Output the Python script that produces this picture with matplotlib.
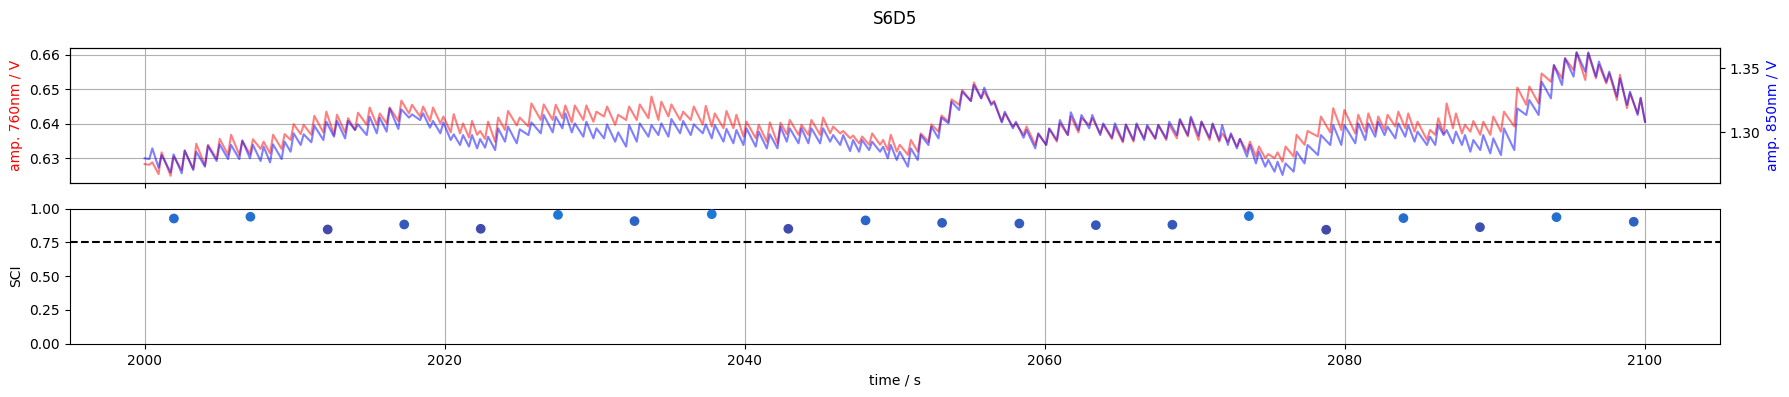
import numpy as np
import matplotlib
matplotlib.use("Agg")
import matplotlib.pyplot as plt
from matplotlib.colors import LinearSegmentedColormap, Normalize

# ---------------- data ----------------
title = "S6D5"

# series end points
t_edges = [2000.0, 2100.0]
red_edges = [0.6283, 0.6406]
blue_edges = [1.2793, 1.3081]

# beat peak times (s)
t_peak = [2000.51, 2001.13, 2001.93, 2002.67, 2003.44, 2004.22, 2005.00, 2005.76, 2006.51, 2007.22,
          2007.93, 2008.56, 2009.33, 2009.93, 2010.60, 2011.31, 2012.11, 2012.82, 2013.56, 2014.22,
          2015.00, 2015.67, 2016.33, 2017.11, 2017.82, 2018.56, 2019.22, 2019.91, 2020.60, 2021.22,
          2021.82, 2022.36, 2022.89, 2023.56, 2024.22, 2025.00, 2025.78, 2026.60, 2027.40, 2028.04,
          2028.67, 2029.44, 2030.11, 2030.82, 2031.56, 2032.29, 2033.00, 2033.78, 2034.44, 2035.11,
          2035.89, 2036.60, 2037.40, 2038.00, 2038.78, 2039.44, 2040.11, 2040.93, 2041.67, 2042.38,
          2043.00, 2043.78, 2044.44, 2045.22, 2045.89, 2046.56, 2047.22, 2047.82, 2048.49, 2049.22,
          2049.73, 2050.33, 2051.07, 2051.73, 2052.44, 2053.11, 2053.78, 2054.49, 2055.27, 2055.96,
          2056.62, 2057.33, 2058.07, 2058.78, 2059.56, 2060.29, 2061.00, 2061.73, 2062.44, 2063.16,
          2063.89, 2064.67, 2065.40, 2066.11, 2066.82, 2067.56, 2068.29, 2069.00, 2069.73, 2070.44,
          2071.18, 2071.82, 2072.40, 2073.00, 2073.67, 2074.27, 2074.89, 2075.51, 2076.04, 2076.78,
          2077.51, 2078.40, 2079.22, 2079.96, 2080.89, 2081.56, 2082.22, 2082.84, 2083.56, 2084.22,
          2084.84, 2085.67, 2086.22, 2086.78, 2087.40, 2088.00, 2088.56, 2089.22, 2089.89, 2090.60,
          2091.49, 2092.29, 2093.11, 2093.93, 2094.67, 2095.44, 2096.22, 2096.93, 2097.62, 2098.33,
          2099.00, 2099.71]

# beat foot (trough) times (s)
t_foot = [2000.31, 2000.93, 2001.73, 2002.47, 2003.24, 2004.02, 2004.80, 2005.56, 2006.31, 2007.02,
          2007.73, 2008.36, 2009.13, 2009.73, 2010.40, 2011.11, 2011.91, 2012.62, 2013.36, 2014.02,
          2014.80, 2015.47, 2016.13, 2016.91, 2017.62, 2018.36, 2019.02, 2019.71, 2020.40, 2021.02,
          2021.62, 2022.16, 2022.69, 2023.36, 2024.02, 2024.80, 2025.58, 2026.40, 2027.20, 2027.84,
          2028.47, 2029.24, 2029.91, 2030.62, 2031.36, 2032.09, 2032.80, 2033.58, 2034.24, 2034.91,
          2035.69, 2036.40, 2037.20, 2037.80, 2038.58, 2039.24, 2039.91, 2040.73, 2041.47, 2042.18,
          2042.80, 2043.58, 2044.24, 2045.02, 2045.69, 2046.36, 2047.02, 2047.62, 2048.29, 2049.02,
          2049.53, 2050.13, 2050.87, 2051.53, 2052.24, 2052.91, 2053.58, 2054.29, 2055.07, 2055.76,
          2056.42, 2057.13, 2057.87, 2058.58, 2059.36, 2060.09, 2060.80, 2061.53, 2062.24, 2062.96,
          2063.69, 2064.47, 2065.20, 2065.91, 2066.62, 2067.36, 2068.09, 2068.80, 2069.53, 2070.24,
          2070.98, 2071.62, 2072.20, 2072.80, 2073.47, 2074.07, 2074.69, 2075.31, 2075.84, 2076.58,
          2077.31, 2078.20, 2079.02, 2079.76, 2080.69, 2081.36, 2082.02, 2082.64, 2083.36, 2084.02,
          2084.64, 2085.47, 2086.02, 2086.58, 2087.20, 2087.80, 2088.36, 2089.02, 2089.69, 2090.40,
          2091.29, 2092.09, 2092.91, 2093.73, 2094.47, 2095.24, 2096.02, 2096.73, 2097.42, 2098.13,
          2098.80, 2099.51]

# amplitude 760 nm (V)
red_foot = [0.6281, 0.6254, 0.6249, 0.6266, 0.6269, 0.6279, 0.6298, 0.6310, 0.6310, 0.6312,
            0.6327, 0.6314, 0.6327, 0.6353, 0.6370, 0.6368, 0.6375, 0.6368, 0.6375, 0.6382,
            0.6397, 0.6397, 0.6401, 0.6408, 0.6430, 0.6421, 0.6408, 0.6401, 0.6375, 0.6372,
            0.6360, 0.6368, 0.6356, 0.6348, 0.6382, 0.6395, 0.6392, 0.6411, 0.6411, 0.6416,
            0.6404, 0.6411, 0.6406, 0.6421, 0.6397, 0.6411, 0.6411, 0.6416, 0.6411, 0.6421,
            0.6411, 0.6411, 0.6397, 0.6392, 0.6387, 0.6387, 0.6363, 0.6358, 0.6348, 0.6343,
            0.6370, 0.6368, 0.6368, 0.6368, 0.6372, 0.6372, 0.6358, 0.6343, 0.6339, 0.6339,
            0.6324, 0.6319, 0.6310, 0.6319, 0.6348, 0.6377, 0.6406, 0.6455, 0.6466, 0.6474,
            0.6459, 0.6406, 0.6392, 0.6368, 0.6339, 0.6339, 0.6348, 0.6368, 0.6375, 0.6397,
            0.6372, 0.6356, 0.6346, 0.6348, 0.6358, 0.6356, 0.6353, 0.6358, 0.6363, 0.6353,
            0.6353, 0.6348, 0.6348, 0.6334, 0.6319, 0.6305, 0.6300, 0.6300, 0.6290, 0.6305,
            0.6339, 0.6363, 0.6375, 0.6382, 0.6372, 0.6377, 0.6377, 0.6382, 0.6392, 0.6387,
            0.6377, 0.6353, 0.6368, 0.6372, 0.6387, 0.6372, 0.6377, 0.6368, 0.6368, 0.6377,
            0.6392, 0.6455, 0.6459, 0.6522, 0.6532, 0.6556, 0.6527, 0.6532, 0.6517, 0.6469,
            0.6445, 0.6430]
red_peak = [0.6288, 0.6317, 0.6305, 0.6321, 0.6342, 0.6339, 0.6356, 0.6368, 0.6350, 0.6355,
            0.6348, 0.6368, 0.6370, 0.6399, 0.6397, 0.6423, 0.6435, 0.6426, 0.6416, 0.6432,
            0.6447, 0.6430, 0.6447, 0.6467, 0.6455, 0.6450, 0.6447, 0.6421, 0.6428, 0.6401,
            0.6408, 0.6379, 0.6406, 0.6418, 0.6437, 0.6418, 0.6459, 0.6456, 0.6455, 0.6453,
            0.6453, 0.6453, 0.6435, 0.6450, 0.6426, 0.6450, 0.6456, 0.6479, 0.6464, 0.6456,
            0.6435, 0.6450, 0.6452, 0.6430, 0.6437, 0.6426, 0.6406, 0.6397, 0.6404, 0.6403,
            0.6411, 0.6397, 0.6411, 0.6418, 0.6392, 0.6379, 0.6366, 0.6363, 0.6372, 0.6353,
            0.6368, 0.6339, 0.6353, 0.6372, 0.6398, 0.6424, 0.6471, 0.6498, 0.6520, 0.6493,
            0.6466, 0.6430, 0.6401, 0.6392, 0.6370, 0.6385, 0.6401, 0.6421, 0.6416, 0.6416,
            0.6397, 0.6392, 0.6397, 0.6397, 0.6392, 0.6397, 0.6397, 0.6411, 0.6416, 0.6406,
            0.6398, 0.6372, 0.6368, 0.6356, 0.6348, 0.6334, 0.6312, 0.6317, 0.6334, 0.6368,
            0.6379, 0.6421, 0.6445, 0.6440, 0.6426, 0.6430, 0.6421, 0.6426, 0.6435, 0.6430,
            0.6406, 0.6382, 0.6416, 0.6459, 0.6430, 0.6397, 0.6408, 0.6406, 0.6421, 0.6435,
            0.6505, 0.6508, 0.6546, 0.6569, 0.6590, 0.6607, 0.6604, 0.6571, 0.6546, 0.6542,
            0.6488, 0.6474]

# amplitude 850 nm (V)
blue_foot = [1.2787, 1.2719, 1.2682, 1.2675, 1.2701, 1.2727, 1.2772, 1.2787, 1.2787, 1.2793,
             1.2772, 1.2761, 1.2787, 1.2845, 1.2898, 1.2919, 1.2937, 1.2963, 1.2950, 1.3016,
             1.2976, 1.2990, 1.3003, 1.3024, 1.3113, 1.3094, 1.3034, 1.2990, 1.2937, 1.2898,
             1.2885, 1.2871, 1.2877, 1.2858, 1.2924, 1.2911, 1.2976, 1.2990, 1.2997, 1.3029,
             1.2997, 1.2963, 1.2950, 1.2950, 1.2924, 1.2885, 1.2924, 1.2963, 1.2976, 1.2963,
             1.2990, 1.2976, 1.2990, 1.2950, 1.2924, 1.2911, 1.2898, 1.2885, 1.2871, 1.2871,
             1.2924, 1.2911, 1.2911, 1.2911, 1.2924, 1.2898, 1.2850, 1.2845, 1.2858, 1.2845,
             1.2793, 1.2780, 1.2727, 1.2780, 1.2898, 1.2950, 1.3068, 1.3173, 1.3244, 1.3265,
             1.3213, 1.3076, 1.3029, 1.2955, 1.2871, 1.2898, 1.2937, 1.2976, 1.3016, 1.3029,
             1.2976, 1.2955, 1.2929, 1.2937, 1.2937, 1.2950, 1.2950, 1.2976, 1.2976, 1.2971,
             1.2955, 1.2937, 1.2898, 1.2871, 1.2806, 1.2753, 1.2727, 1.2688, 1.2662, 1.2688,
             1.2753, 1.2819, 1.2898, 1.2898, 1.2911, 1.2937, 1.2963, 1.2976, 1.2950, 1.2963,
             1.2924, 1.2898, 1.2898, 1.2976, 1.2911, 1.2898, 1.2845, 1.2858, 1.2832, 1.2819,
             1.2858, 1.3134, 1.3134, 1.3265, 1.3370, 1.3436, 1.3475, 1.3436, 1.3396, 1.3278,
             1.3213, 1.3134]
blue_peak = [1.2871, 1.2819, 1.2824, 1.2856, 1.2845, 1.2890, 1.2903, 1.2898, 1.2934, 1.2898,
             1.2885, 1.2903, 1.2924, 1.2990, 1.2982, 1.3050, 1.3081, 1.3087, 1.3087, 1.3060,
             1.3121, 1.3113, 1.3186, 1.3178, 1.3139, 1.3147, 1.3087, 1.3076, 1.2982, 1.2976,
             1.2976, 1.2945, 1.2963, 1.3029, 1.3042, 1.3021, 1.3076, 1.3134, 1.3121, 1.3147,
             1.3068, 1.3081, 1.3029, 1.3060, 1.2997, 1.3055, 1.3068, 1.3055, 1.3068, 1.3102,
             1.3087, 1.3060, 1.3060, 1.3055, 1.3024, 1.3016, 1.3029, 1.3003, 1.2982, 1.3042,
             1.3029, 1.3029, 1.3029, 1.3029, 1.2976, 1.2976, 1.2937, 1.2937, 1.2924, 1.2885,
             1.2898, 1.2845, 1.2871, 1.2976, 1.3042, 1.3113, 1.3239, 1.3318, 1.3370, 1.3349,
             1.3234, 1.3160, 1.3081, 1.3016, 1.2990, 1.3029, 1.3094, 1.3155, 1.3134, 1.3134,
             1.3068, 1.3068, 1.3060, 1.3068, 1.3055, 1.3055, 1.3081, 1.3102, 1.3121, 1.3081,
             1.3068, 1.3055, 1.2990, 1.2945, 1.2898, 1.2845, 1.2780, 1.2766, 1.2753, 1.2845,
             1.2898, 1.2976, 1.3055, 1.3055, 1.3068, 1.3068, 1.3081, 1.3042, 1.3068, 1.3055,
             1.3003, 1.2963, 1.3055, 1.3016, 1.3003, 1.2976, 1.2937, 1.2976, 1.2950, 1.3029,
             1.3186, 1.3252, 1.3396, 1.3528, 1.3580, 1.3627, 1.3627, 1.3554, 1.3475, 1.3423,
             1.3318, 1.3270]

# scalp coupling index per window
sci_t = [2001.95, 2007.05, 2012.20, 2017.30, 2022.40, 2027.55, 2032.65, 2037.80, 2042.90, 2048.05,
         2053.15, 2058.30, 2063.40, 2068.50, 2073.60, 2078.75, 2083.90, 2089.00, 2094.10, 2099.25]
sci = [0.926, 0.939, 0.845, 0.882, 0.850, 0.953, 0.907, 0.958, 0.850, 0.912,
       0.894, 0.889, 0.877, 0.880, 0.944, 0.843, 0.929, 0.862, 0.936, 0.902]
sci_threshold = 0.75

# ---------------- build series ----------------
def build(edges, foot, peak):
    vals = [edges[0]]
    for f, p in zip(foot, peak):
        vals += [f, p]
    vals.append(edges[1])
    return np.array(vals)

t_series = build(t_edges, t_foot, t_peak)
red_series = build(red_edges, red_foot, red_peak)
blue_series = build(blue_edges, blue_foot, blue_peak)

# ---------------- figure ----------------
fig = plt.figure(figsize=(17.9, 3.97), dpi=100)
ax1 = fig.add_axes([0.0389, 0.5398, 0.9220, 0.3395])
ax2 = fig.add_axes([0.0389, 0.1340, 0.9220, 0.3408], sharex=ax1)

ax1.plot(t_series, red_series, color="r", alpha=0.5, lw=1.5)
ax1.set_ylabel("amp. 760nm / V", color="r")
ax1.set_ylim(0.6229, 0.6620)
ax1.grid(True)
ax1.tick_params(axis="x", labelbottom=False)

ax1b = ax1.twinx()
ax1b.plot(t_series, blue_series, color="b", alpha=0.5, lw=1.5)
ax1b.set_ylabel("amp. 850nm / V", color="b")
ax1b.set_ylim(1.2601, 1.3662)

cmap = LinearSegmentedColormap.from_list("sci", ["#4348a8", "#3060c4", "#1a7ad8"])
norm = Normalize(vmin=0.84, vmax=0.96)
ax2.scatter(sci_t, sci, c=sci, cmap=cmap, norm=norm, zorder=3)
ax2.axhline(sci_threshold, color="k", ls="--", lw=1.5)
ax2.set_ylim(0, 1)
ax2.set_yticks([0.0, 0.25, 0.5, 0.75, 1.0])
ax2.grid(True, axis="x")
ax2.set_ylabel("SCI")
ax2.set_xlabel("time / s")
ax2.set_xlim(1995, 2105)

fig.suptitle(title, y=0.975)
fig.savefig("out.png", dpi=100)
